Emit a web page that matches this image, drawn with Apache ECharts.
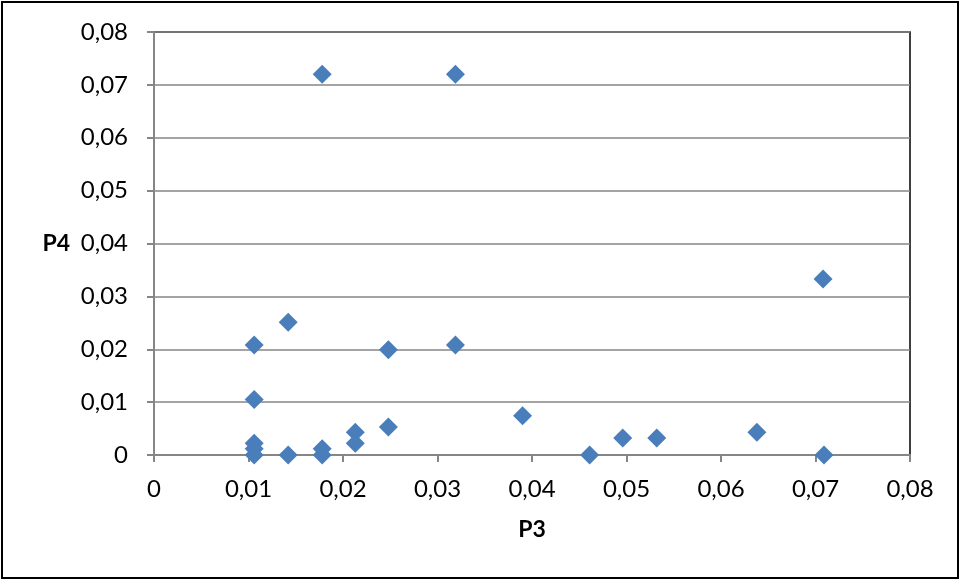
<!DOCTYPE html>
<html>
<head>
<meta charset="utf-8">
<script src="https://cdn.jsdelivr.net/npm/echarts@6/dist/echarts.min.js"></script>
<style>
html, body { margin: 0; padding: 0; background: #fff; }
#main { width: 961px; height: 581px; }
</style>
</head>
<body>
<div id="main"></div>
<script>
// P3 / P4 pairs
var p3Values = [0.0178, 0.0319, 0.0708, 0.0142, 0.0106, 0.0319, 0.0248, 0.0106,
                0.0390, 0.0248, 0.0213, 0.0213, 0.0106, 0.0106, 0.0106, 0.0142,
                0.0178, 0.0178, 0.0461, 0.0496, 0.0532, 0.0638, 0.0709];
var p4Values = [0.0720, 0.0720, 0.0333, 0.0251, 0.0208, 0.0208, 0.0199, 0.0105,
                0.0074, 0.0053, 0.0043, 0.0022, 0.0022, 0.0012, 0.0000, 0.0000,
                0.0012, 0.0000, 0.0000, 0.0032, 0.0032, 0.0043, 0.0000];

var points = [];
for (var i = 0; i < p3Values.length; i++) {
	points.push([p3Values[i], p4Values[i]]);
}

function fmt(v) {
	if (v === 0) return '0';
	return v.toFixed(2).replace('.', ',');
}

var font = 'Lato, "Open Sans", sans-serif';
var myChart = echarts.init(document.getElementById('main'));
myChart.setOption({
	animation: false,
	grid: {
		left: 154, top: 32, right: 51, bottom: 126,
		show: true, borderColor: '#000', borderWidth: 1.5, backgroundColor: 'transparent'
	},
	graphic: [{
		type: 'rect',
		shape: { x: 2, y: 2, width: 956, height: 576 },
		style: { fill: 'none', stroke: '#000', lineWidth: 2 }
	}],
	xAxis: {
		type: 'value', min: 0, max: 0.08, interval: 0.01,
		name: 'P3', nameLocation: 'middle', nameGap: 63,
		nameTextStyle: { fontFamily: font, fontSize: 23, fontWeight: 'bold', color: '#000' },
		axisLine: { show: true, lineStyle: { color: '#868686', width: 2 } },
		axisTick: { show: true, length: 7, lineStyle: { color: '#868686', width: 2 } },
		axisLabel: { formatter: fmt, margin: 22, fontFamily: font, fontSize: 24, color: '#000' },
		splitLine: { show: false }
	},
	yAxis: {
		type: 'value', min: 0, max: 0.08, interval: 0.01,
		name: 'P4', nameLocation: 'middle', nameGap: 84, nameRotate: 0,
		nameTextStyle: { fontFamily: font, fontSize: 23, fontWeight: 'bold', color: '#000' },
		axisLine: { show: true, lineStyle: { color: '#868686', width: 2 } },
		axisTick: { show: true, length: 7, lineStyle: { color: '#868686', width: 2 } },
		axisLabel: { formatter: fmt, margin: 26, fontFamily: font, fontSize: 24, color: '#000' },
		splitLine: { show: true, lineStyle: { color: '#868686', width: 1.5 } }
	},
	series: [{
		type: 'scatter',
		symbol: 'diamond',
		symbolSize: 19,
		itemStyle: { color: '#4a7ebb', opacity: 1 },
		data: points
	}]
});
</script>
</body>
</html>
